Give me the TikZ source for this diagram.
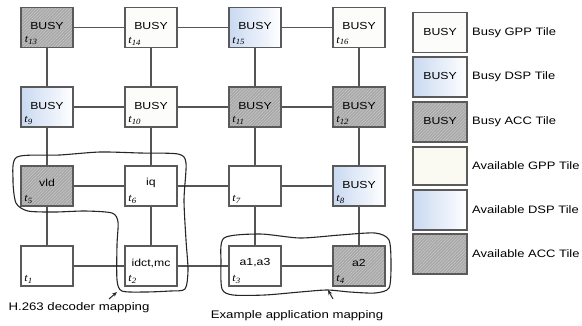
\documentclass[tikz,border=0pt]{standalone}
\usepackage{fontspec}
\setmainfont{Liberation Sans}[FakeStretch=1.2]
\newfontfamily\tserif{Liberation Serif}[FakeStretch=1.1]
\usetikzlibrary{patterns.meta,arrows.meta}
\definecolor{bordc}{HTML}{5A5A5A}
\definecolor{linec}{HTML}{555555}
\definecolor{accfill}{HTML}{A8A8A8}
\definecolor{acchatch}{HTML}{CACACA}
\definecolor{dspblue}{HTML}{C9D9F1}
\definecolor{gppbusy}{HTML}{FCFCFA}
\definecolor{gppavail}{HTML}{FAFAF2}
\newcommand{\tl}[1]{{\tserif\itshape\fontsize{11}{11}\selectfont t\raisebox{-0.35ex}{\fontsize{8}{8}\selectfont #1}}}
\tikzset{
  tile/.style={draw=bordc, line width=1.5pt, minimum width=52pt, minimum height=40pt, inner sep=0pt},
  gpp/.style={tile, fill=gppbusy},
  gppa/.style={tile, fill=white},
  dsp/.style={tile, left color=dspblue, right color=white},
  acc/.style={tile, preaction={fill=accfill}, pattern={Lines[angle=45,distance=2.2pt,line width=0.5pt]}, pattern color=acchatch},
  lbl/.style={font=\fontsize{10.2}{10}\selectfont, inner sep=0pt},
  tlab/.style={anchor=south west, inner sep=0pt},
  legtxt/.style={anchor=west, font=\fontsize{10.8}{11}\selectfont, inner sep=0pt},
  captxt/.style={font=\fontsize{11}{11}\selectfont, inner sep=0pt},
  link/.style={draw=linec, line width=1.5pt},
  blob/.style={draw=black!85, line width=1.1pt},
  pointer/.style={draw=black!85, line width=1pt, -{Stealth[length=5pt,width=4pt]}}
}
\begin{document}
\begin{tikzpicture}[x=1pt,y=-1pt]
\useasboundingbox (0,0) rectangle (582,325);
% mesh links (drawn first, beneath tiles)
\coordinate (c1) at (47,266); \coordinate (c2) at (151,266); \coordinate (c3) at (255,266); \coordinate (c4) at (359,266);
\coordinate (c5) at (47,186); \coordinate (c6) at (151,186); \coordinate (c7) at (255,186); \coordinate (c8) at (359,186);
\coordinate (c9) at (47,107); \coordinate (c10) at (151,107); \coordinate (c11) at (255,107); \coordinate (c12) at (359,107);
\coordinate (c13) at (47,27.5); \coordinate (c14) at (151,27.5); \coordinate (c15) at (255,27.5); \coordinate (c16) at (359,27.5);
\foreach \a/\b in {c1/c2,c2/c3,c3/c4,c5/c6,c6/c7,c7/c8,c9/c10,c10/c11,c11/c12,c13/c14,c14/c15,c15/c16,
  c1/c5,c5/c9,c9/c13,c2/c6,c6/c10,c10/c14,c3/c7,c7/c11,c11/c15,c4/c8,c8/c12,c12/c16}
  \draw[link] (\a) -- (\b);
% tiles
\node[acc] (t13) at (c13) {};
\node[gpp] (t14) at (c14) {};
\node[dsp] (t15) at (c15) {};
\node[gpp] (t16) at (c16) {};
\node[dsp] (t9) at (c9) {};
\node[gpp] (t10) at (c10) {};
\node[acc] (t11) at (c11) {};
\node[acc] (t12) at (c12) {};
\node[acc] (t5) at (c5) {};
\node[gppa] (t6) at (c6) {};
\node[gppa] (t7) at (c7) {};
\node[dsp] (t8) at (c8) {};
\node[gppa] (t1) at (c1) {};
\node[gppa] (t2) at (c2) {};
\node[gppa] (t3) at (c3) {};
\node[acc] (t4) at (c4) {};
% tile texts
\foreach \t in {t13,t14,t15,t16,t9,t10,t11,t12,t8}
  \node[lbl] (\t txt) at ([yshift=1.5pt]\t.center) {BUSY};
\node[lbl] (t5txt) at ([yshift=3pt]t5.center) {vld};
\node[lbl] (t6txt) at ([yshift=3pt]t6.center) {iq};
\node[lbl] (t2txt) at ([yshift=3pt]t2.center) {idct,mc};
\node[lbl] (t3txt) at ([yshift=3pt]t3.center) {a1,a3};
\node[lbl] (t4txt) at ([yshift=3pt]t4.center) {a2};
\foreach \t/\n in {t13/13,t14/14,t15/15,t16/16,t9/9,t10/10,t11/11,t12/12,t5/5,t6/6,t7/7,t8/8,t1/1,t2/2,t3/3,t4/4}
  \node[tlab] (\t lab) at ([xshift=4pt,yshift=3pt]\t.south west) {\tl{\n}};
% legend
\node[gpp, minimum width=54pt] (L1) at (440,32.5) {};
\node[dsp, minimum width=54pt] (L2) at (440,77) {};
\node[acc, minimum width=54pt] (L3) at (440,122) {};
\node[tile, fill=gppavail, minimum width=54pt, minimum height=38pt] (L4) at (440,166) {};
\node[dsp, minimum width=54pt] (L5) at (440,210) {};
\node[acc, minimum width=54pt] (L6) at (440,254) {};
\foreach \l in {L1,L2,L3}
  \node[lbl] (\l txt) at ([yshift=1pt]\l.center) {BUSY};
\node[legtxt] (L1d) at (472,32.5) {Busy GPP Tile};
\node[legtxt] (L2d) at (472,77) {Busy DSP Tile};
\node[legtxt] (L3d) at (472,122) {Busy ACC Tile};
\node[legtxt] (L4d) at (472,166) {Available GPP Tile};
\node[legtxt] (L5d) at (472,210) {Available DSP Tile};
\node[legtxt] (L6d) at (472,254) {Available ACC Tile};
% mapping outlines
\draw[blob] plot[smooth cycle, tension=0.45] coordinates {
  (17,157) (60,155) (100,152) (140,153) (178,154) (186,163) (184,200) (186,240) (188,270) (185,289)
  (170,291) (145,292) (122,291) (117,280) (117,245) (118,222) (112,213) (85,211) (55,212) (28,211)
  (16,203) (13,180)};
\draw[blob] plot[smooth cycle, tension=0.45] coordinates {
  (224,238) (260,234) (300,238) (340,235) (375,233) (389,240) (391,265) (389,288) (375,293)
  (350,292) (327,290) (300,292) (265,295) (233,295) (222,289) (221,263)};
% captions and pointers
\node[captxt] (capA) at (79,308) {H.263 decoder mapping};
\node[captxt] (capB) at (297,316) {Example application mapping};
\coordinate (pA1) at (109,299); \coordinate (pA2) at (117,292);
\coordinate (pB1) at (333,299); \coordinate (pB2) at (328,290);
\draw[pointer] (pA1) -- (pA2);
\draw[pointer] (pB1) -- (pB2);
\end{tikzpicture}
\end{document}
